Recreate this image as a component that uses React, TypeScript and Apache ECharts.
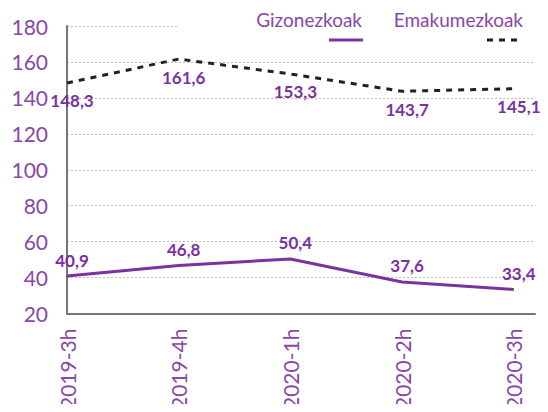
import React, { useEffect, useRef } from "react";
import * as echarts from "echarts";

const categories = ["2019-3h", "2019-4h", "2020-1h", "2020-2h", "2020-3h"];
const gizonezkoak = [40.9, 46.8, 50.4, 37.6, 33.4];
const emakumezkoak = [148.3, 161.6, 153.3, 143.7, 145.1];
const seriesNames = ["Gizonezkoak", "Emakumezkoak"];

const PURPLE = "#7a32a0";
const TEXT_PURPLE = "#8a47a8";
const FONT = "Lato, 'Open Sans', sans-serif";

export default function App() {
  const ref = useRef<HTMLDivElement>(null);
  useEffect(() => {
    if (!ref.current) return;
    const chart = echarts.init(ref.current, null, { renderer: "svg" });
    const fmt = (p: any) => String(p.value[1]).replace(".", ",");
    chart.setOption({
      animation: false,
      grid: { left: 67, right: 13, top: 26, bottom: 97 },
      xAxis: {
        type: "value",
        min: 0,
        max: 4.19,
        interval: 1,
        axisLine: { show: true, lineStyle: { color: "#777", width: 2 } },
        axisTick: { show: false },
        splitLine: { show: false },
        axisLabel: {
          rotate: 90,
          margin: 15,
          color: TEXT_PURPLE,
          fontFamily: FONT,
          fontSize: 21,
          formatter: (v: number) => (Number.isInteger(v) ? categories[v] ?? "" : ""),
        },
      },
      yAxis: {
        type: "value",
        min: 20,
        max: 180,
        interval: 20,
        axisLine: { show: true, lineStyle: { color: "#777", width: 2 } },
        axisTick: { show: false },
        splitLine: { show: true, lineStyle: { color: "#bbb", type: [2, 2], width: 1 } },
        axisLabel: {
          margin: 19,
          color: TEXT_PURPLE,
          fontFamily: FONT,
          fontSize: 21,
        },
      },
      series: [
        {
          name: seriesNames[0],
          type: "line",
          data: gizonezkoak.map((v, i) => [i, v]),
          showSymbol: true,
          symbol: "circle",
          symbolSize: 1,
          itemStyle: { color: "rgba(0,0,0,0)" },
          lineStyle: { color: PURPLE, width: 3 },
          label: {
            show: true,
            position: "top",
            distance: 7,
            offset: [5, 0],
            color: PURPLE,
            fontFamily: FONT,
            fontWeight: "bold",
            fontSize: 17,
            formatter: fmt,
          },
          z: 3,
        },
        {
          name: seriesNames[1],
          type: "line",
          data: emakumezkoak.map((v, i) => [i, v]),
          showSymbol: true,
          symbol: "circle",
          symbolSize: 1,
          itemStyle: { color: "rgba(0,0,0,0)" },
          lineStyle: { color: "#222", width: 3, type: [6, 6] },
          label: {
            show: true,
            position: "bottom",
            distance: 9,
            offset: [5, 0],
            color: PURPLE,
            fontFamily: FONT,
            fontWeight: "bold",
            fontSize: 17,
            formatter: fmt,
          },
          z: 3,
        },
      ],
      graphic: [
        {
          type: "rect",
          z: 10,
          shape: { x: 178, y: 18, width: 370, height: 14 },
          style: { fill: "#fff" },
        },
        {
          type: "text",
          z: 11,
          x: 362,
          y: 19,
          style: {
            text: seriesNames[0],
            fill: TEXT_PURPLE,
            font: `19px ${FONT}`,
            textAlign: "right",
            textVerticalAlign: "middle",
          },
        },
        {
          type: "line",
          z: 11,
          shape: { x1: 329, y1: 40, x2: 363, y2: 40 },
          style: { stroke: PURPLE, lineWidth: 3 },
        },
        {
          type: "text",
          z: 11,
          x: 523,
          y: 19,
          style: {
            text: seriesNames[1],
            fill: TEXT_PURPLE,
            font: `19px ${FONT}`,
            textAlign: "right",
            textVerticalAlign: "middle",
          },
        },
        {
          type: "line",
          z: 11,
          shape: { x1: 487, y1: 40, x2: 523, y2: 40 },
          style: { stroke: "#222", lineWidth: 3, lineDash: [6, 6] },
        },
      ],
    });
    return () => chart.dispose();
  }, []);
  return <div ref={ref} style={{ width: 548, height: 412, margin: -8 }} />;
}
